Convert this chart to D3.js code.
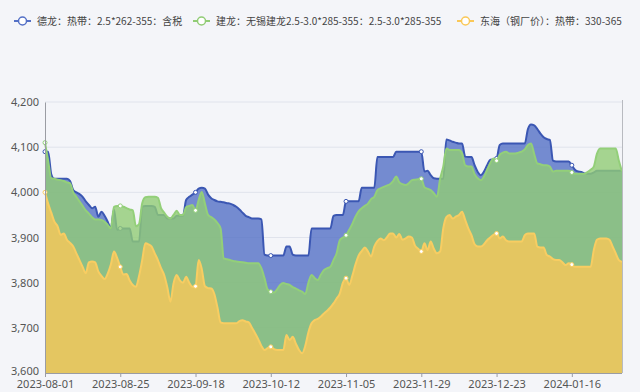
<!DOCTYPE html>
<html><head><meta charset="utf-8">
<script src="https://cdn.jsdelivr.net/npm/d3@7/dist/d3.min.js"></script>
<style>html,body{margin:0;padding:0;background:#f4f5f9;}svg{display:block;}</style>
</head><body>
<svg id="c" width="640" height="392"></svg>
<script>
const startDate = "2023-08-01";
const endDate = "2024-02-01";
const seriesNames = ["德龙：热带：2.5*262-355：含税", "建龙：无锡建龙2.5-3.0*285-355：2.5-3.0*285-355", "东海（钢厂价）：热带：330-365"];
const yTicks = [3600, 3700, 3800, 3900, 4000, 4100, 4200];
const xTickLabels = ["2023-08-01","2023-08-25","2023-09-18","2023-10-12","2023-11-05","2023-11-29","2023-12-23","2024-01-16"];

const delong = [
4090,4090,4040,4030,4030,4030,4030,4030,4025,4005,
4000,3996,3990,3980,3972,3965,3968,3946,3957,3948,
3935,3920,3962,3917,3920,3920,3920,3920,3891,3891,
3891,3968,3970,3970,3970,3968,3950,3950,3950,3942,
3942,3942,3948,3948,3948,3983,3990,3995,4000,4008,
4010,4008,3995,3987,3983,3980,3979,3978,3976,3975,
3972,3968,3962,3955,3948,3945,3942,3942,3942,3940,
3862,3860,3860,3860,3860,3860,3860,3880,3880,3862,
3860,3860,3860,3860,3860,3920,3920,3920,3920,3920,
3920,3920,3948,3950,3950,3950,3980,3980,3980,3980,
3980,4010,4010,4010,4010,4010,4078,4078,4078,4078,
4078,4078,4090,4090,4090,4090,4090,4090,4090,4090,
4090,4046,4048,4038,4031,4030,4030,4030,4117,4115,
4112,4110,4108,4108,4079,4078,4078,4060,4045,4038,
4046,4060,4072,4073,4075,4105,4108,4108,4108,4108,
4108,4108,4108,4108,4140,4150,4148,4140,4130,4122,
4118,4116,4070,4068,4068,4068,4068,4068,4060,4050,
4046,4045,4042,4041,4041,4044,4048,4048,4048,4048,
4048,4048,4048,4048,4048];

const jianlong = [
4110,4070,4031,4030,4028,4027,4025,4022,4020,4000,
3990,3980,3970,3960,3953,3945,3940,3940,3939,3935,
3928,3920,3968,3970,3970,3968,3965,3962,3960,3925,
3930,3976,3989,3990,3990,3990,3988,3965,3955,3946,
3942,3950,3959,3950,3950,3967,3970,3972,3960,3983,
4001,3975,3950,3945,3940,3932,3920,3854,3852,3850,
3848,3847,3846,3845,3844,3843,3843,3843,3843,3832,
3810,3785,3780,3778,3785,3795,3799,3797,3795,3790,
3787,3783,3780,3775,3800,3817,3810,3806,3818,3828,
3832,3835,3850,3865,3894,3900,3905,3917,3930,3946,
3958,3965,3970,3975,3985,3990,4005,4009,4012,4015,
4018,4025,4035,4022,4018,4016,4020,4027,4028,4029,
4030,4011,4008,4005,3998,3990,4030,4057,4097,4094,
4094,4094,4094,4086,4060,4057,4057,4040,4031,4027,
4035,4050,4065,4075,4070,4083,4088,4090,4086,4086,
4086,4088,4090,4095,4105,4108,4085,4064,4062,4060,
4060,4057,4046,4048,4048,4048,4048,4048,4044,4041,
4041,4041,4041,4045,4050,4057,4085,4097,4097,4097,
4097,4097,4097,4070,4046];

const donghai = [
4000,3975,3955,3935,3925,3906,3909,3895,3888,3880,
3865,3850,3835,3821,3845,3847,3845,3825,3815,3808,
3820,3840,3869,3855,3835,3818,3819,3805,3795,3791,
3815,3850,3887,3885,3880,3865,3850,3832,3817,3790,
3758,3799,3817,3805,3800,3813,3800,3791,3792,3850,
3830,3792,3788,3787,3775,3745,3712,3710,3710,3710,
3710,3710,3715,3717,3714,3712,3700,3688,3675,3660,
3651,3655,3658,3653,3651,3651,3651,3684,3673,3680,
3665,3651,3644,3660,3690,3710,3717,3720,3725,3732,
3738,3745,3754,3765,3776,3800,3810,3795,3815,3840,
3860,3870,3878,3869,3858,3880,3892,3898,3894,3900,
3909,3909,3900,3908,3895,3898,3902,3900,3882,3875,
3869,3887,3872,3891,3875,3865,3869,3920,3945,3950,
3942,3946,3950,3957,3939,3920,3905,3885,3880,3880,
3885,3894,3900,3906,3909,3898,3902,3894,3891,3891,
3891,3891,3891,3905,3909,3909,3909,3880,3878,3878,
3861,3858,3852,3850,3850,3845,3839,3843,3840,3835,
3835,3835,3835,3835,3835,3872,3895,3898,3898,3898,
3895,3880,3865,3850,3846];

const parse = d3.timeParse("%Y-%m-%d");
const fmt = d3.timeFormat("%Y-%m-%d");
const t0 = parse(startDate);
const dates = delong.map((_, i) => d3.timeDay.offset(t0, i));

const svg = d3.select("#c");
const L = 45, R = 622, T = 102, B = 373;
const x = d3.scaleTime().domain([t0, parse(endDate)]).range([L, R]);
const y = d3.scaleLinear().domain([3600, 4200]).range([B, T]);

// grid
svg.append("g").selectAll("line").data(yTicks.slice(1)).join("line")
  .attr("x1", L).attr("x2", R).attr("y1", d => y(d)).attr("y2", d => y(d))
  .attr("stroke", "#e0e3ec").attr("stroke-width", 1);

const series = [
  {name: seriesNames[0], data: delong, base: "#5470c6", line: "#3b57b3", op: 0.8},
  {name: seriesNames[1], data: jianlong, base: "#91cc75", line: "#93cf79", op: 0.8},
  {name: seriesNames[2], data: donghai, base: "#fac858", line: "#f8cd62", op: 0.8}
];

const area = d3.area().x((d, i) => x(dates[i])).y0(B).y1(d => y(d)).curve(d3.curveMonotoneX);
const line = d3.line().x((d, i) => x(dates[i])).y(d => y(d)).curve(d3.curveMonotoneX);

series.forEach(s => {
  const g = svg.append("g");
  g.append("path").datum(s.data).attr("d", area).attr("fill", s.base).attr("fill-opacity", s.op);
  g.append("path").datum(s.data).attr("d", line).attr("fill", "none")
    .attr("stroke", s.line).attr("stroke-width", 2).attr("stroke-linejoin", "round");
  const pts = s.data.map((v, i) => ({v, i})).filter(p => p.i % 24 === 0);
  g.selectAll("circle").data(pts).join("circle")
    .attr("cx", p => x(dates[p.i])).attr("cy", p => y(p.v)).attr("r", 2)
    .attr("fill", "#fff").attr("stroke", s.line).attr("stroke-width", 1);
});

// axes
const yAxis = d3.axisLeft(y).tickValues(yTicks).tickFormat(d3.format(",")).tickSize(0).tickPadding(6);
const gy = svg.append("g").attr("transform", `translate(${L},0)`).call(yAxis);
gy.select(".domain").attr("stroke", "#9a9ca3");
gy.selectAll("text").attr("fill", "#555").style("font-family", "Noto Sans, sans-serif").style("font-size", "11px");
gy.selectAll(".tick").filter(d => d === 3600).select("text").attr("dy", "0.1em");

const xTickDates = xTickLabels.map(parse);
const xAxis = d3.axisBottom(x).tickValues(xTickDates).tickFormat(fmt).tickSize(4).tickPadding(2);
const gx = svg.append("g").attr("transform", `translate(0,${B})`).call(xAxis);
gx.select(".domain").attr("stroke", "#9a9ca3").attr("d", `M${L},0.5H${R}`);
gx.selectAll(".tick line").attr("stroke", "#9a9ca3");
gx.selectAll("text").attr("fill", "#555").style("font-family", "Noto Sans, sans-serif").style("font-size", "11px").attr("dy", "0.85em");

// right border
svg.append("line").attr("x1", R + 0.5).attr("x2", R + 0.5).attr("y1", T - 2).attr("y2", B)
  .attr("stroke", "#b8bac0").attr("stroke-width", 1);

// legend
const legend = svg.append("g").attr("transform", "translate(0,21)");
const legX = [14, 193, 457];
series.forEach((s, k) => {
  const g = legend.append("g").attr("transform", `translate(${legX[k]},0)`);
  g.append("line").attr("x1", 0).attr("x2", 17).attr("y1", 0).attr("y2", 0).attr("stroke", s.base).attr("stroke-width", 2);
  g.append("circle").attr("cx", 8.5).attr("cy", 0).attr("r", 4).attr("fill", "#fff").attr("stroke", s.base).attr("stroke-width", 1.5);
  g.append("text").attr("x", 23).attr("y", 0).attr("dy", "0.35em").text(s.name)
    .attr("fill", "#444").style("font-family", "Noto Sans CJK SC, sans-serif").style("font-size", "10px");
});
</script>
</body></html>
